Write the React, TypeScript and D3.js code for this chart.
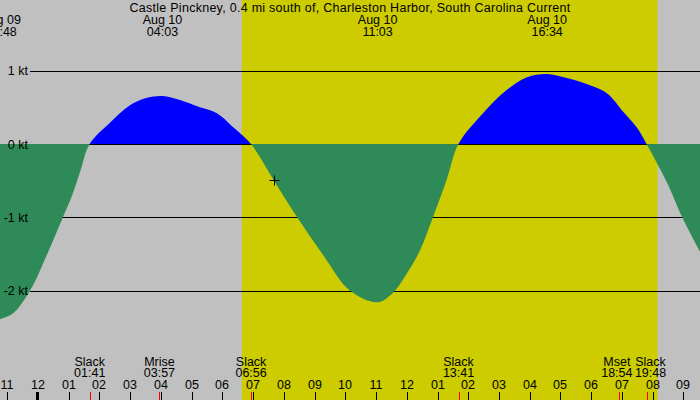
import * as d3 from 'd3'
import { useEffect, useRef } from 'react'

// hours since Aug 10 00:00, current in knots (flood +, ebb -)
const hours = [
    -1.24, -0.81, -0.26, 0.29, 0.81, 1.11, 1.37, 1.68, 2.34, 2.99, 3.55, 4.05,
    4.62, 5.27, 5.82, 6.35, 6.93, 7.65, 8.43, 9.27, 10.15, 11.05, 11.55, 12.01,
    12.43, 12.85, 13.31, 13.68, 14.48, 15.26, 15.91, 16.56, 17.21, 17.96, 18.52,
    19.04, 19.49, 19.8, 20.47, 20.96, 21.54,
]
const knots = [
    -2.39, -2.31, -2.0, -1.51, -1.0, -0.7, -0.38, 0, 0.29, 0.53, 0.63, 0.655,
    0.6, 0.5, 0.42, 0.23, 0, -0.48, -1.0, -1.51, -2.0, -2.16, -2.03, -1.76,
    -1.45, -1.0, -0.47, 0, 0.42, 0.74, 0.91, 0.955, 0.9, 0.8, 0.69, 0.44, 0.22,
    0, -0.53, -1.0, -1.47,
]

const yTicks = [1, 0, -1, -2]

// max flood / max ebb labels at top
const peakDates = ['Aug 09', 'Aug 10', 'Aug 10', 'Aug 10']
const peakTimes = ['22:48', '04:03', '11:03', '16:34']
const peakHours = [-1.2, 4.05, 11.05, 16.567]

// events along the bottom
const eventNames = ['Slack', 'Mrise', 'Slack', 'Slack', 'Mset', 'Slack']
const eventTimes = ['01:41', '03:57', '06:56', '13:41', '18:54', '19:48']
const eventHours = [1.683, 3.95, 6.933, 13.683, 18.9, 19.8]

const sunrise = 6.63
const sunset = 20.16
const nowHour = 7.68
const nowKnots = -0.49

const title =
    'Castle Pinckney, 0.4 mi south of, Charleston Harbor, South Carolina Current'

export default function App() {
    const svgRef = useRef<SVGSVGElement>(null)
    const width = 700
    const height = 400

    useEffect(() => {
        if (!svgRef.current) return
        const svg = d3.select(svgRef.current)
        svg.selectAll('*').remove()

        const x = d3.scaleLinear().domain([-1.237, 21.54]).range([0, width])
        const y = d3.scaleLinear().domain([0, -1]).range([144, 217.3])
        const font = 'Liberation Sans, Arial, sans-serif'
        const fs = 12.5

        // background + daylight
        svg.append('rect')
            .attr('width', width)
            .attr('height', height)
            .attr('fill', '#c0c0c0')
        svg.append('rect')
            .attr('x', x(sunrise))
            .attr('width', x(sunset) - x(sunrise))
            .attr('height', height)
            .attr('fill', '#cccc00')

        // grid lines (under the fills)
        yTicks.forEach((v) => {
            svg.append('line')
                .attr('x1', 30)
                .attr('x2', width)
                .attr('y1', Math.round(y(v)) + 0.5)
                .attr('y2', Math.round(y(v)) + 0.5)
                .attr('stroke', '#000')
                .attr('stroke-width', 1)
        })

        const data = hours.map((h, i) => [h, knots[i]] as [number, number])
        const area = d3
            .area<[number, number]>()
            .x((d) => x(d[0]))
            .y0(y(0))
            .y1((d) => y(d[1]))
            .curve(d3.curveCatmullRom.alpha(0.5))

        const defs = svg.append('defs')
        defs.append('clipPath')
            .attr('id', 'above')
            .append('rect')
            .attr('width', width)
            .attr('height', y(0))
        defs.append('clipPath')
            .attr('id', 'below')
            .append('rect')
            .attr('y', y(0))
            .attr('width', width)
            .attr('height', height - y(0))

        svg.append('path')
            .datum(data)
            .attr('d', area)
            .attr('fill', '#0000ff')
            .attr('clip-path', 'url(#above)')
        svg.append('path')
            .datum(data)
            .attr('d', area)
            .attr('fill', '#2e8b57')
            .attr('clip-path', 'url(#below)')

        // y labels
        yTicks.forEach((v) => {
            svg.append('text')
                .attr('x', 28)
                .attr('y', y(v) + 4.5)
                .attr('text-anchor', 'end')
                .attr('font-family', font)
                .attr('font-size', fs)
                .text(`${v} kt`)
        })

        // current time marker
        const cx = Math.round(x(nowHour)) + 0.5
        const cy = Math.round(y(nowKnots)) + 0.5
        svg.append('path')
            .attr('d', `M${cx - 5},${cy}H${cx + 5}M${cx},${cy - 5}V${cy + 5}`)
            .attr('stroke', '#000')
            .attr('stroke-width', 1)

        // title and peak labels
        svg.append('text')
            .attr('x', 350)
            .attr('y', 12)
            .attr('text-anchor', 'middle')
            .attr('font-family', font)
            .attr('font-size', fs)
            .attr('letter-spacing', 0.27)
            .text(title)

        peakHours.forEach((h, i) => {
            const g = svg
                .append('text')
                .attr('text-anchor', 'middle')
                .attr('font-family', font)
                .attr('font-size', fs)
            g.append('tspan').attr('x', x(h)).attr('y', 24).text(peakDates[i])
            g.append('tspan').attr('x', x(h)).attr('y', 36).text(peakTimes[i])
        })

        // bottom event labels, nudged apart where they crowd
        const nudge = [0, 0, 0, 0, -2, 4]
        eventHours.forEach((h, i) => {
            const g = svg
                .append('text')
                .attr('text-anchor', 'middle')
                .attr('font-family', font)
                .attr('font-size', fs)
            const cxh = x(h) + nudge[i]
            g.append('tspan').attr('x', cxh).attr('y', 366).text(eventNames[i])
            g.append('tspan').attr('x', cxh).attr('y', 377).text(eventTimes[i])
        })

        // hour ticks
        d3.range(-1, 22).forEach((h) => {
            const hx = Math.round(x(h))
            const hr = ((h % 12) + 12) % 12 || 12
            svg.append('text')
                .attr('x', hx)
                .attr('y', 389)
                .attr('text-anchor', 'middle')
                .attr('font-family', font)
                .attr('font-size', fs)
                .text(String(hr).padStart(2, '0'))
            svg.append('rect')
                .attr('x', h === 0 ? hx - 2 : hx)
                .attr('y', 392)
                .attr('width', h === 0 ? 3 : 1)
                .attr('height', 8)
                .attr('fill', '#000')
        })

        eventHours.forEach((h) => {
            svg.append('rect')
                .attr('x', Math.round(x(h)))
                .attr('y', 392)
                .attr('width', 1)
                .attr('height', 8)
                .attr('fill', '#ff0000')
        })
    }, [])

    return (
        <svg
            ref={svgRef}
            width={width}
            height={height}
            style={{ position: 'absolute', left: 0, top: 0, display: 'block' }}
        />
    )
}
